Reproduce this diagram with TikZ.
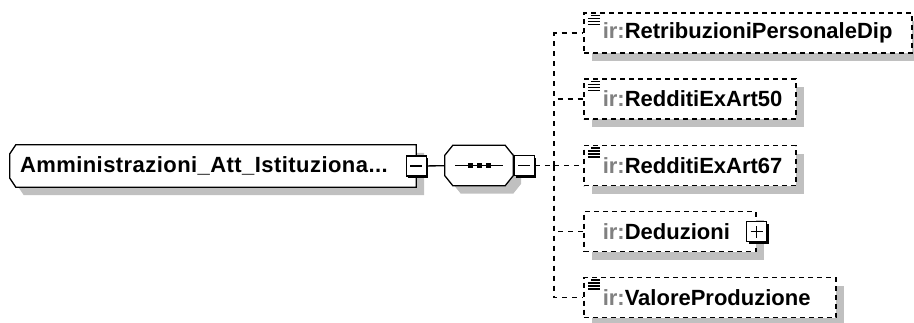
\documentclass[tikz,border=0pt]{standalone}
\usepackage{fontspec}
\setmainfont{Liberation Sans}
\usepackage{xcolor}
\usetikzlibrary{shadows}

\definecolor{shadowgray}{HTML}{C0C0C0}
\definecolor{irgray}{HTML}{808080}
\newcommand{\ir}{\textcolor{irgray}{ir:}}
\pgfdeclarelayer{bg}
\pgfsetlayers{bg,main}

\begin{document}
\begin{tikzpicture}[
  x=1pt, y=-1pt,
  every node/.style={font=\fontsize{22}{26}\selectfont\bfseries},
  shade/.style={drop shadow={shadow xshift=8pt, shadow yshift=-8pt, fill=shadowgray, opacity=1}},
  frame/.style={draw, line width=1.3pt, fill=white, shade},
  rootbox/.style={minimum height=42pt, inner xsep=10pt, inner ysep=0pt, text width=386pt, align=left},
  seqbox/.style={minimum width=68pt, minimum height=40pt, inner sep=0pt},
  seqmark/.style={path picture={
      \draw[line width=1.3pt] ([xshift=-24pt]path picture bounding box.center) -- ([xshift=24pt]path picture bounding box.center);
      \foreach \d in {-9,0,9}
        \fill[black] ([xshift=\d*1pt-2.5pt, yshift=-2.5pt]path picture bounding box.center) rectangle ++(5pt,5pt);
    }},
  togbox/.style={draw, line width=1.3pt, fill=white, minimum size=20pt, inner sep=0pt,
    drop shadow={shadow xshift=2pt, shadow yshift=-2pt, fill=black, opacity=1}},
  minusbox/.style={togbox, path picture={
      \draw[line width=1.2pt] ([xshift=-6pt]path picture bounding box.center) -- ([xshift=6pt]path picture bounding box.center);}},
  plusbox/.style={togbox, path picture={
      \draw[line width=1.2pt] ([xshift=-6pt]path picture bounding box.center) -- ([xshift=6pt]path picture bounding box.center);
      \draw[line width=1.2pt] ([yshift=-6pt]path picture bounding box.center) -- ([yshift=6pt]path picture bounding box.center);}},
  elem/.style={draw, dash pattern=on 5pt off 4pt, line width=1.5pt, fill=white, shade,
    anchor=west, minimum height=40pt, inner xsep=19pt, inner ysep=0pt, align=left},
  doc/.style={elem, path picture={
      \draw[line width=1.3pt, solid] ([xshift=7pt, yshift=-2.5pt]path picture bounding box.north west) -- ++(9pt,0);
      \foreach \k in {5.5,8.5,11.5}
        \draw[line width=1.3pt, solid] ([xshift=4pt, yshift=-\k*1pt]path picture bounding box.north west) -- ++(12pt,0);}},
  conn/.style={line width=1.5pt, dash pattern=on 5pt off 5pt}
]
\useasboundingbox (0,0) rectangle (914,322);

% root element and its sequence
\node[rootbox] (root) at (213,166) {\addfontfeatures{LetterSpace=2}Amministrazioni\_Att\_Istituziona...};
\node[seqbox] (seq) at (479,165.5) {};
\begin{pgfonlayer}{bg}
  \draw[frame] ([xshift=6pt]root.north west) -- (root.north east) -- (root.south east)
    -- ([xshift=6pt]root.south west) -- ([yshift=9pt]root.south west) -- ([yshift=-9pt]root.north west) -- cycle;
  \draw[frame, seqmark] ([xshift=8pt]seq.north west) -- ([xshift=-8pt]seq.north east) -- ([yshift=-10pt]seq.north east)
    -- ([yshift=10pt]seq.south east) -- ([xshift=-8pt]seq.south east) -- ([xshift=8pt]seq.south west)
    -- ([yshift=10pt]seq.south west) -- ([yshift=-10pt]seq.north west) -- cycle;
\end{pgfonlayer}
\node[minusbox] (rootsw) at (root.east) {};
\node[minusbox] (seqsw) at ([xshift=11pt]seq.east) {};
\coordinate (trunk) at (554,165.5);

% children
\node[doc, text width=290pt] (retrib) at (583,33) {\ir RetribuzioniPersonaleDip};
\node[doc, text width=174pt] (art50) at (583,99) {\ir RedditiExArt50};
\node[doc, text width=174pt] (art67) at (583,165.5) {\ir RedditiExArt67};
\node[elem, text width=134pt] (dedu) at (583,231.5) {\ir Deduzioni};
\node[plusbox] (dedusw) at (dedu.east) {};
\node[doc, text width=214pt] (valore) at (583,297.5) {\ir ValoreProduzione};

\draw[line width=1.3pt] (rootsw) -- (seq);
\draw[conn] (seqsw) -- (trunk);
\foreach \c in {retrib,art50,art67,dedu,valore}
  \draw[conn] (trunk) |- (\c);
\end{tikzpicture}
\end{document}
